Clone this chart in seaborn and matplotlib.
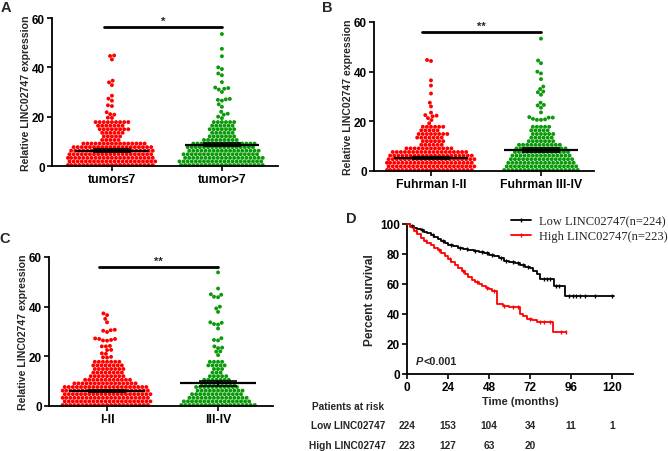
import numpy as np
import pandas as pd
import matplotlib
matplotlib.use('Agg')
import matplotlib.pyplot as plt
import seaborn as sns
from matplotlib.lines import Line2D
from matplotlib.transforms import blended_transform_factory

sns.set_theme(style='ticks')
plt.rcParams['font.family'] = ['Liberation Sans', 'DejaVu Sans']
plt.rcParams['font.weight'] = 'bold'
plt.rcParams['axes.linewidth'] = 1.2

RED = '#FF0000'
GREEN = '#0A9A0A'

# ---------------- data: scatter panels ----------------
LEVELS = [0.4, 1.85, 3.3, 4.75, 6.2, 7.65, 9.1, 10.55, 12.0, 13.45, 14.9, 16.35, 17.8]

# Panel A
a_cats = ['tumor≤7', 'tumor>7']
a_red_counts = [22, 22, 22, 21, 21, 20, 16, 5, 5, 6, 8, 7, 9]
a_red_upper = [19.5, 19.6, 20.8, 21.0, 21.8, 24.3, 24.6, 26.5, 27.3, 28.5,
               32.8, 33.9, 34.6, 43.2, 44.6, 44.8]
a_green_counts = [21, 21, 20, 19, 18, 17, 16, 9, 7, 6, 7, 6, 6]
a_green_upper = [19.4, 20.0, 20.8, 21.2, 22.0, 24.0, 25.0, 26.5, 26.8, 27.0,
                 27.2, 30.0, 31.0, 31.3, 31.6, 31.8, 34.0, 36.8, 37.5, 39.3,
                 40.0, 44.5, 47.5, 53.5]
a_means = [6.2, 8.7]
a_sems = [0.6, 0.7]
a_star = '*'

# Panel B
b_cats = ['Fuhrman I-II', 'Fuhrman III-IV']
b_red_counts = [22, 22, 22, 22, 21, 19, 12, 6, 6, 7, 8, 5, 6]
b_red_upper = [19.2, 20.5, 21.3, 22.0, 22.3, 22.5, 23.5, 26.0, 27.5, 31.2,
               34.4, 36.5, 44.3, 44.7]
b_green_counts = [19, 18, 17, 16, 15, 14, 13, 11, 7, 6, 6, 5, 5]
b_green_upper = [20.6, 20.6, 20.8, 21.0, 21.5, 21.5, 21.7, 23.6, 25.5, 26.4,
                 26.6, 27.5, 30.7, 31.7, 32.0, 33.0, 34.0, 37.0, 39.3, 40.0,
                 43.4, 44.5, 53.3]
b_means = [5.2, 8.4]
b_sems = [0.5, 0.8]
b_star = '**'

# Panel C
c_cats = ['I-II', 'III-IV']
c_red_counts = [22, 22, 22, 22, 22, 21, 16, 12, 9, 8, 8, 8, 7]
c_red_upper = [19.5, 19.6, 19.8, 21.0, 21.2, 22.5, 22.6, 24.0, 24.0, 24.2,
               26.3, 26.4, 26.6, 27.0, 27.0, 27.2, 29.8, 30.3, 30.5, 30.7,
               33.7, 35.1, 36.6, 37.3]
c_green_counts = [19, 17, 15, 13, 12, 11, 9, 7, 5, 3, 3, 5, 4]
c_green_upper = [20.5, 21.9, 22.0, 23.3, 23.5, 24.0, 26.4, 26.6, 27.3, 31.2,
                 32.8, 33.0, 33.5, 33.7, 37.9, 39.3, 40.0, 43.8, 44.0, 44.8,
                 45.0, 47.3, 53.8]
c_means = [6.0, 9.2]
c_sems = [0.5, 1.0]
c_star = '**'

# ---------------- data: survival panel ----------------
low_t = [0, 2, 4, 6, 8, 10, 12, 14, 16, 18, 20, 22, 24, 27, 30, 33, 36, 39, 42,
         45, 48, 51, 54, 57, 60, 63, 66, 69, 72, 74, 76, 78, 86, 92.5, 121]
low_s = [100, 98.7, 97.5, 96.8, 96, 95, 94.2, 93, 91.5, 90, 88.5, 87.3, 86.3,
         85.2, 84.2, 83.3, 82.6, 82, 81.2, 80.4, 79.5, 78.5, 77.2, 75.5, 74.5,
         73.8, 72.5, 71.5, 70.5, 68.8, 67, 63.5, 59, 52, 52]
low_cens = [3, 9, 15, 21, 26, 31, 35, 40, 44, 47, 50, 55, 58, 62, 65, 68, 71,
            80, 82, 84, 87, 89, 95, 97, 99, 101, 104, 110, 120]
high_t = [0, 2, 4, 6, 8, 10, 12, 14, 16, 18, 20, 22, 24, 26, 28, 30, 32, 34, 36,
          38, 40, 42, 44, 46, 48, 50, 52.5, 56, 60, 63, 66, 68, 70, 73, 76,
          85.5, 93]
high_s = [100, 98, 95.5, 93.5, 91, 89, 87.5, 86, 84, 82.5, 80.5, 79, 77, 75,
          72.5, 70.5, 68.5, 66.5, 64.5, 62.8, 61.5, 60.2, 58.8, 57.5, 56.5,
          55.5, 47, 45.5, 45, 44.5, 40, 38.5, 37, 36, 35, 28, 28]
high_cens = [5, 11, 19, 25, 33, 41, 47, 51, 57, 62, 65, 72, 78, 80, 84, 90, 93]
risk_times = [0, 24, 48, 72, 96, 120]
low_risk = [224, 153, 104, 34, 11, 1]
high_risk = [223, 127, 63, 20]

W, H = 668, 452
fig = plt.figure(figsize=(W / 100, H / 100), dpi=100)


def px_axes(left, right, top, bottom):
    return fig.add_axes([left / W, 1 - bottom / H, (right - left) / W, (bottom - top) / H])


def expand(counts, upper):
    return np.concatenate([np.repeat(LEVELS, counts), np.array(upper)])


def style_axes(ax, labelsize=8.5):
    sns.despine(ax=ax)
    for s in ('left', 'bottom'):
        ax.spines[s].set_linewidth(1.3)
        ax.spines[s].set_color('black')
    ax.tick_params(direction='out', length=3.5, width=1.2, labelsize=labelsize, pad=1.5, colors='black')
    for lab in ax.get_xticklabels() + ax.get_yticklabels():
        lab.set_fontweight('bold')


def scatter_panel(ax, cats, red, green, means, sems, star, xlim, bar_x0, bar_y):
    vals = [red, green]
    df = pd.DataFrame({'group': np.repeat(cats, [len(v) for v in vals]),
                       'value': np.concatenate(vals)})
    sns.swarmplot(data=df, x='group', y='value', hue='group', order=cats,
                  hue_order=cats, palette=[RED, GREEN], size=2.8, linewidth=0,
                  legend=False, ax=ax, clip_on=False, zorder=2, warn_thresh=1)
    for i, (m, s) in enumerate(zip(means, sems)):
        ax.hlines(m, i - 0.34, i + 0.34, color='black', lw=1.6, zorder=4)
        ax.hlines([m - s, m + s], i - 0.17, i + 0.17, color='black', lw=1.2, zorder=4)
        ax.vlines(i, m - s, m + s, color='black', lw=1.2, zorder=4)
    ax.plot([bar_x0, 1.0], [bar_y, bar_y], color='black', lw=2, clip_on=False)
    ax.text((bar_x0 + 1.0) / 2, bar_y + 0.6, star, ha='center', va='bottom',
            fontsize=8, fontweight='bold')
    ax.set_xlim(*xlim)
    ax.set_ylim(0, 60)
    ax.set_yticks([0, 20, 40, 60])
    ax.set_xlabel('')
    ax.set_ylabel('Relative LINC02747 expression', fontsize=7.6, fontweight='bold', labelpad=1)
    style_axes(ax)
    ax.tick_params(axis='x', labelsize=8.8)
    for lab in ax.get_xticklabels():
        lab.set_fontweight('bold')


axA = px_axes(52, 278, 19, 167)
scatter_panel(axA, a_cats, expand(a_red_counts, a_red_upper),
              expand(a_green_counts, a_green_upper), a_means, a_sems, a_star,
              (-0.545, 1.51), -0.07, 56.3)

axB = px_axes(374, 594, 23, 172)
scatter_panel(axB, b_cats, expand(b_red_counts, b_red_upper),
              expand(b_green_counts, b_green_upper), b_means, b_sems, b_star,
              (-0.518, 1.482), -0.08, 56.0)

axC = px_axes(49, 273, 258, 407)
scatter_panel(axC, c_cats, expand(c_red_counts, c_red_upper),
              expand(c_green_counts, c_green_upper), c_means, c_sems, c_star,
              (-0.523, 1.495), -0.07, 56.0)

# ---------------- survival panel ----------------
axD = px_axes(407, 633, 225, 375)
sns.lineplot(x=low_t, y=low_s, drawstyle='steps-post', color='black', lw=1.3,
             estimator=None, sort=False, ax=axD, clip_on=False, zorder=3)
sns.lineplot(x=high_t, y=high_s, drawstyle='steps-post', color=RED, lw=1.3,
             estimator=None, sort=False, ax=axD, clip_on=False, zorder=3)


def step_at(ts, ss, t):
    idx = np.searchsorted(ts, t, side='right') - 1
    return np.array(ss)[idx]


axD.plot(low_cens, step_at(low_t, low_s, low_cens), ls='none', marker='|', ms=3.5,
         mew=1, color='black', clip_on=False, zorder=4)
axD.plot(high_cens, step_at(high_t, high_s, high_cens), ls='none', marker='|', ms=3.5,
         mew=1, color=RED, clip_on=False, zorder=4)
axD.set_xlim(0, 132.3)
axD.set_ylim(0, 100)
axD.set_xticks(risk_times)
axD.set_yticks([0, 20, 40, 60, 80, 100])
axD.set_xlabel('Time (months)', fontsize=8, fontweight='bold', labelpad=2)
axD.set_ylabel('Percent survival', fontsize=8.6, fontweight='bold', labelpad=3)
style_axes(axD)
axD.text(5.0, 8.7, 'P', style='italic', fontsize=7.8, fontweight='bold', va='center', ha='left')
axD.annotate('<0.001', xy=(5.0, 8.7), xytext=(5.4, 0), textcoords='offset points',
             fontsize=7.8, fontweight='bold', va='center', ha='left')

handles = [Line2D([], [], color='black', lw=1.3, marker='|', ms=3.5, mew=1),
           Line2D([], [], color=RED, lw=1.3, marker='|', ms=3.5, mew=1)]
fig.legend(handles, ['Low LINC02747(n=224)', 'High LINC02747(n=223)'],
           loc='upper left', bbox_to_anchor=(505 / W, 1 - 210 / H), frameon=False,
           prop={'family': 'Liberation Serif', 'size': 9, 'weight': 'normal'},
           handlelength=1.6, handletextpad=0.6, borderpad=0, labelspacing=0.25,
           numpoints=1)

trans = blended_transform_factory(axD.transData, fig.transFigure)
for t, n in zip(risk_times, low_risk):
    axD.text(t, 1 - 426 / H, str(n), transform=trans, ha='center', va='center',
             fontsize=7.3, fontweight='bold')
for t, n in zip(risk_times, high_risk):
    axD.text(t, 1 - 446 / H, str(n), transform=trans, ha='center', va='center',
             fontsize=7.3, fontweight='bold')
fig.text(312 / W, 1 - 407 / H, 'Patients at risk', ha='left', va='center', fontsize=7.3, fontweight='bold')
fig.text(311 / W, 1 - 426 / H, 'Low LINC02747', ha='left', va='center', fontsize=7.3, fontweight='bold')
fig.text(309 / W, 1 - 446 / H, 'High LINC02747', ha='left', va='center', fontsize=7.3, fontweight='bold')

# panel letters
for lab, x, y in [('A', 6, 8), ('B', 327, 8), ('C', 5, 239), ('D', 351, 219)]:
    fig.text(x / W, 1 - y / H, lab, ha='center', va='center', fontsize=10.5, fontweight='bold')

fig.savefig('out.png', dpi=100)
